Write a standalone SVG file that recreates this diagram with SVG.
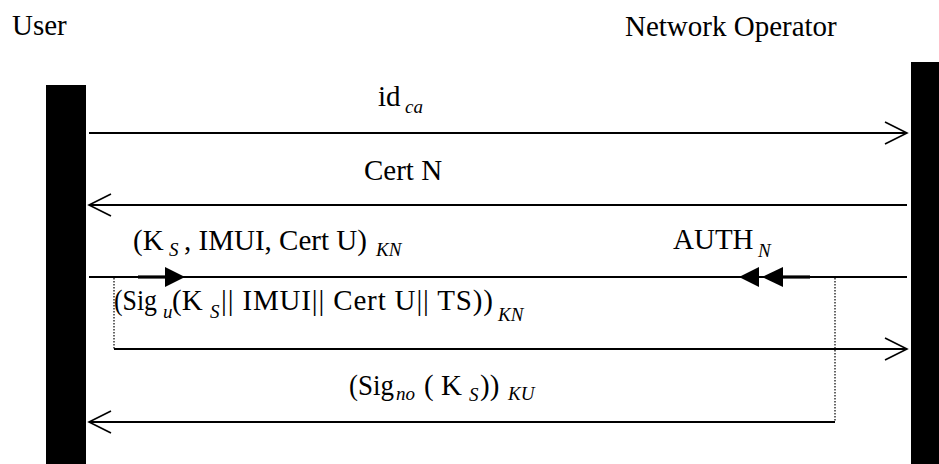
<svg xmlns="http://www.w3.org/2000/svg" width="939" height="464" viewBox="0 0 939 464">
  <style>
    text { font-family: "Times New Roman", "Liberation Serif", Times, serif; fill: #000; }
    .lbl { font-size: 29px; }
    .sub { font-size: 19px; font-style: italic; }
    .msg { stroke: #000; stroke-width: 2; fill: none; }
    .bold { stroke: #000; stroke-width: 3.2; fill: none; }
    .dot { stroke: #000; stroke-width: 1.2; stroke-dasharray: 1.5 1.5; fill: none; }
    .head { fill: #000; stroke: none; }
    .bar { fill: #000; }
  </style>
  <defs>
    <marker id="open" viewBox="-24 -12 26 24" refX="0" refY="0" markerWidth="26" markerHeight="24" markerUnits="userSpaceOnUse" orient="auto-start-reverse">
      <path d="M-22,-11 L0,0 L-22,11" fill="none" stroke="#000" stroke-width="1.6"/>
    </marker>
  </defs>
  <rect width="939" height="464" fill="#fff"/>

  <!-- Lifelines -->
  <g id="user">
    <text class="lbl" x="12" y="35">User</text>
    <rect class="bar" x="46" y="85" width="40" height="379"/>
  </g>
  <g id="operator">
    <text class="lbl" x="625" y="36">Network Operator</text>
    <rect class="bar" x="911" y="62" width="28" height="402"/>
  </g>

  <!-- Messages -->
  <g id="connectors">
    <line class="msg" x1="89" y1="133" x2="907" y2="133" marker-end="url(#open)"/>
    <line class="msg" x1="907" y1="205" x2="89" y2="205" marker-end="url(#open)"/>

    <line class="msg" x1="89" y1="277" x2="907" y2="277"/>
    <line class="bold" x1="138" y1="277" x2="167" y2="277"/>
    <polygon class="head" points="165,267 185,277 165,287"/>
    <line class="bold" x1="781" y1="277" x2="810" y2="277"/>
    <polygon class="head" points="783,267 762,277 783,287"/>
    <polygon class="head" points="759,267 739,277 759,287"/>

    <line class="dot" x1="114" y1="278" x2="114" y2="349"/>
    <line class="msg" x1="114" y1="349" x2="907" y2="349" marker-end="url(#open)"/>

    <line class="dot" x1="835" y1="278" x2="835" y2="422"/>
    <line class="msg" x1="835" y1="422" x2="89" y2="422" marker-end="url(#open)"/>
  </g>

  <!-- Message labels -->
  <g id="labels">
    <text class="lbl" x="378" y="106">id</text>
    <text class="sub" x="405" y="113">ca</text>

    <text class="lbl" x="364" y="180">Cert N</text>

    <text class="lbl" x="133" y="250">(K</text>
    <text class="sub" x="169" y="256">S</text>
    <text class="lbl" x="184" y="250">, IMUI, Cert U)</text>
    <text class="sub" x="376" y="256">KN</text>

    <text class="lbl" x="673" y="249">AUTH</text>
    <text class="sub" x="758" y="257">N</text>

    <text class="lbl" x="114" y="310" textLength="43" lengthAdjust="spacingAndGlyphs">(Sig</text>
    <text class="sub" x="163" y="318">u</text>
    <text class="lbl" x="172" y="310">(K</text>
    <text class="sub" x="210" y="318">S</text>
    <text class="lbl" x="221" y="310" textLength="272" lengthAdjust="spacing">|| IMUI|| Cert U|| TS))</text>
    <text class="sub" x="498" y="321">KN</text>

    <text class="lbl" x="349" y="395" textLength="45" lengthAdjust="spacingAndGlyphs">(Sig</text>
    <text class="sub" x="396" y="400">no</text>
    <text class="lbl" x="424" y="395">( K</text>
    <text class="sub" x="469" y="401">S</text>
    <text class="lbl" x="480" y="395">))</text>
    <text class="sub" x="508" y="400">KU</text>
  </g>
</svg>
